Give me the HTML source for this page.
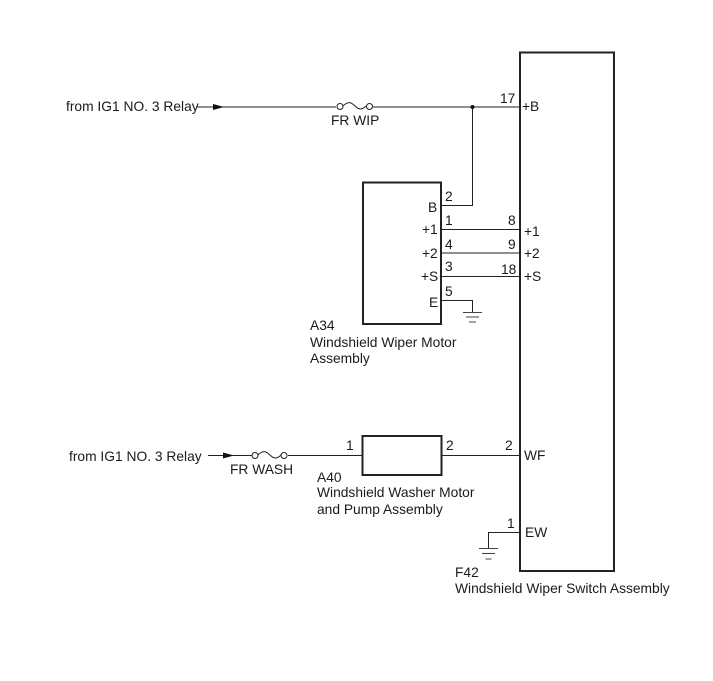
<!DOCTYPE html>
<html>
<head>
<meta charset="utf-8">
<style>
html,body{margin:0;padding:0;background:#fff;}
svg{display:block;}
text{font-family:"Liberation Sans",sans-serif;font-size:13.8px;fill:#1a1a1a;}
.w{stroke:#222;stroke-width:1;fill:none;}
.b{stroke:#222;stroke-width:2;fill:#fff;}
.c{stroke:#222;stroke-width:1;fill:#fff;}
.g{stroke:#444;stroke-width:1;fill:none;}
</style>
</head>
<body>
<svg width="713" height="681" viewBox="0 0 713 681" xmlns="http://www.w3.org/2000/svg">
<rect width="713" height="681" fill="#fff"/>
<!-- boxes -->
<rect class="b" x="520" y="52.500" width="94" height="518.500"/>
<rect class="b" x="363" y="182.500" width="78" height="141.500"/>
<rect class="b" x="362.500" y="436" width="79" height="39"/>
<!-- wires -->
<path class="w" d="M197 107H336M373 107H520"/>
<path class="w" d="M472.500 107V205.500H441"/>
<path class="w" d="M441 229.500H520M441 253H520M441 276.500H520"/>
<path class="w" d="M441 300.500H472.500V312"/>
<path class="g" d="M463 312.500H482M466 317H479M469 322H476"/>
<path class="w" d="M208 455.500H252M288 455.500H362M441 455.500H520"/>
<path class="w" d="M520 532.500H488.500V548"/>
<path class="g" d="M479 548.500H498M482 553.500H495M485.500 559H491.500"/>
<!-- arrows -->
<polygon points="213,104 213,110 224,107" fill="#111"/>
<polygon points="223,452.500 223,458.500 234,455.500" fill="#111"/>
<circle cx="472.500" cy="107" r="2" fill="#111"/>
<!-- fuses -->
<path class="w" d="M343 106C348 101 351 102 355 106S362 110 366 106"/>
<circle class="c" cx="340" cy="106.500" r="3"/>
<circle class="c" cx="369.500" cy="106.500" r="3"/>
<path class="w" d="M258 455C263 450 266 451 270 455S277 459 281 455"/>
<circle class="c" cx="255" cy="455.500" r="3"/>
<circle class="c" cx="284" cy="455.500" r="3"/>
<!-- labels -->
<text x="66" y="111">from IG1 NO. 3 Relay</text>
<text x="331" y="125">FR WIP</text>
<text x="69" y="461">from IG1 NO. 3 Relay</text>
<text x="230" y="474">FR WASH</text>
<text x="500" y="103">17</text>
<text x="522" y="111">+B</text>
<text x="445" y="201">2</text>
<text x="428" y="212">B</text>
<text x="445" y="225">1</text>
<text x="422" y="234">+1</text>
<text x="445" y="249">4</text>
<text x="422" y="258">+2</text>
<text x="445" y="271">3</text>
<text x="421" y="281">+S</text>
<text x="445" y="296">5</text>
<text x="429" y="307">E</text>
<text x="508" y="225">8</text>
<text x="524" y="236">+1</text>
<text x="508" y="249">9</text>
<text x="524" y="258">+2</text>
<text x="501" y="274">18</text>
<text x="524" y="281">+S</text>
<text x="346" y="450">1</text>
<text x="446" y="450">2</text>
<text x="505" y="450">2</text>
<text x="524" y="460">WF</text>
<text x="507" y="528">1</text>
<text x="525" y="537">EW</text>
<text x="310" y="330">A34</text>
<text x="310" y="347">Windshield Wiper Motor</text>
<text x="310" y="363">Assembly</text>
<text x="317" y="482">A40</text>
<text x="317" y="497">Windshield Washer Motor</text>
<text x="317" y="514">and Pump Assembly</text>
<text x="455" y="577">F42</text>
<text x="455" y="593">Windshield Wiper Switch Assembly</text>
</svg>
</body>
</html>
